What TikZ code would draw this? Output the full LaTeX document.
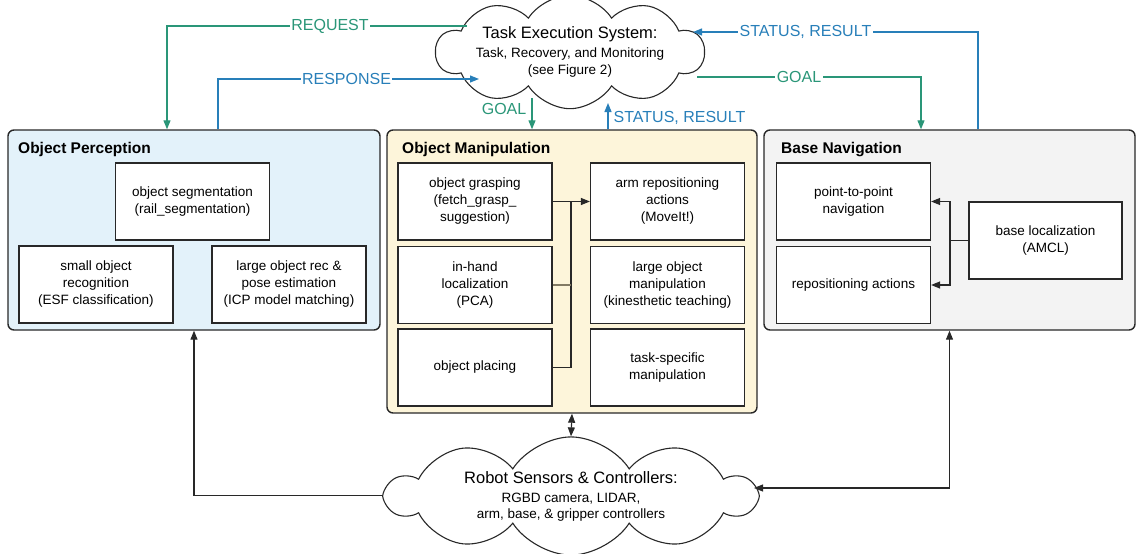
\documentclass[tikz,border=0pt]{standalone}
\usepackage{fontspec}
\setmainfont{Liberation Sans}
\usetikzlibrary{shapes.symbols,arrows.meta}

\definecolor{ctrlgreen}{RGB}{42,150,120}
\definecolor{ctrlblue}{RGB}{40,127,185}
\definecolor{percfill}{RGB}{227,242,250}
\definecolor{manipfill}{RGB}{253,245,218}
\definecolor{navfill}{RGB}{243,243,243}
\definecolor{edge}{RGB}{40,40,40}
\definecolor{softedge}{RGB}{130,122,100}

\tikzset{
  group/.style={draw=edge, line width=1.4pt, rounded corners=6pt, inner sep=0pt},
  comp/.style={draw=edge, fill=white, line width=1.2pt, minimum width=154pt,
    minimum height=77pt, inner sep=2pt, align=center,
    font=\fontsize{13.5}{17}\selectfont},
  gtitle/.style={anchor=base west, inner sep=0pt,
    font=\fontsize{15.5}{18}\selectfont\bfseries},
  puffy/.style={cloud, cloud puffs=10, cloud puff arc=115, cloud ignores aspect,
    draw=edge, fill=white, line width=1.1pt, inner sep=0pt, align=center,
    font=\fontsize{13.5}{17}\selectfont},
  flow/.style={line width=1.2pt, ->},
  wire/.style={draw=edge, line width=1.1pt},
  lbl/.style={fill=white, inner sep=1.5pt, font=\fontsize{16}{18}\selectfont},
}

\begin{document}
\begin{tikzpicture}[x=1pt, y=-1pt, >={Triangle[length=9pt,width=7pt]}]
\useasboundingbox (0,0) rectangle (1136,554);

% ---- subsystem containers ----
\node[group, fill=percfill,  minimum width=372pt, minimum height=200pt] (op) at (194,230) {};
\node[group, fill=manipfill, minimum width=370pt, minimum height=283pt] (om) at (572,271.5) {};
\node[group, fill=navfill,   minimum width=371pt, minimum height=200pt] (bn) at (949.5,230) {};

\node[gtitle] (opT) at (18,153)  {Object Perception};
\node[gtitle] (omT) at (402,153) {Object Manipulation};
\node[gtitle] (bnT) at (781,153) {Base Navigation};

% ---- perception components ----
\node[comp] (seg)   at (192.5,201.5) {object segmentation\\(rail\_segmentation)};
\node[comp] (small) at (96,284.5)    {small object\\recognition\\(ESF classification)};
\node[comp] (large) at (289,284.5)   {large object rec \&\\pose estimation\\(ICP model matching)};

% ---- manipulation components ----
\node[comp] (grasp)   at (475,201.5) {object grasping\\(fetch\_grasp\_\\suggestion)};
\node[comp] (inhand)  at (475,285)   {in-hand\\localization\\(PCA)};
\node[comp] (placing) at (475,367.5) {object placing};
\node[comp] (armrep)     at (667.5,201.5) {arm repositioning\\actions\\(MoveIt!)};
\node[comp] (largemanip) at (667.5,285)   {large object\\manipulation\\(kinesthetic teaching)};
\node[comp] (taskspec)   at (667.5,367.5) {task-specific\\manipulation};

% ---- navigation components ----
\node[comp] (p2p)   at (853.5,201.5) {point-to-point\\navigation};
\node[comp] (repos) at (853.5,285)   {repositioning actions};
\node[comp, minimum width=153pt] (baseloc) at (1045.5,240.5) {base localization\\(AMCL)};

% ---- internal links ----
\coordinate (mj) at (571,201.5);
\draw[wire, ->] (grasp.east) -- (armrep.west);
\draw[wire] (placing.east) -| (mj);
\draw[wire, draw=softedge] (inhand.east) -- (inhand.east -| mj);

\coordinate (nj) at (950,240.5);
\draw[wire] (baseloc.west) -- (nj);
\draw[wire, ->] (nj) |- (p2p.east);
\draw[wire, ->] (nj) |- (repos.east);

% ---- clouds ----
\node[puffy, minimum width=268pt, minimum height=102pt] (tes) at (570,52)
  {{\fontsize{16.5}{19}\selectfont Task Execution System:}\\[2pt]
   Task, Recovery, and Monitoring\\
   (see Figure 2)};
\node[puffy, minimum width=368pt, minimum height=114pt] (rsc) at (571,496)
  {{\fontsize{16.5}{19}\selectfont Robot Sensors \& Controllers:}\\[2pt]
   RGBD camera, LIDAR,\\[-1pt]
   arm, base, \& gripper controllers};

% ---- task system links ----
\coordinate (reqS)  at (467,26);
\coordinate (respT) at (479,79);
\coordinate (statT) at (693,32);
\coordinate (goalS) at (697,77);
\coordinate (goalB) at (532,98);
\coordinate (statB) at (608,103);

\draw[flow, ctrlgreen] (reqS) -| ([xshift=-27pt]op.north);
\draw[flow, ctrlblue] ([xshift=24pt]op.north) |- (respT);
\draw[flow, ctrlgreen] (goalB) -- (goalB |- om.north);
\draw[flow, ctrlblue] (statB |- om.north) -- (statB);
\draw[flow, ctrlgreen] (goalS) -| ([xshift=-28.5pt]bn.north);
\draw[flow, ctrlblue] ([xshift=28.5pt]bn.north) |- (statT);

\node[lbl, text=ctrlgreen] (reqL)  at (330,26)   {REQUEST};
\node[lbl, text=ctrlblue]  (respL) at (346.5,79) {RESPONSE};
\node[lbl, text=ctrlgreen, fill=none, anchor=east] (goalBL) at (528,109) {GOAL};
\node[lbl, text=ctrlblue,  fill=none, anchor=west] (statBL) at (612,118) {STATUS, RESULT};
\node[lbl, text=ctrlgreen] (goalRL) at (799,77)  {GOAL};
\node[lbl, text=ctrlblue]  (statRL) at (805.5,32) {STATUS, RESULT};

% ---- sensor and controller links ----
\coordinate (rscE) at (754,488);
\draw[wire, <-] (op.south) |- (rsc.west);
\draw[wire, <->] (om.south) -- (rsc.north);
\draw[wire, <->] (bn.south) |- (rscE);

\end{tikzpicture}
\end{document}
